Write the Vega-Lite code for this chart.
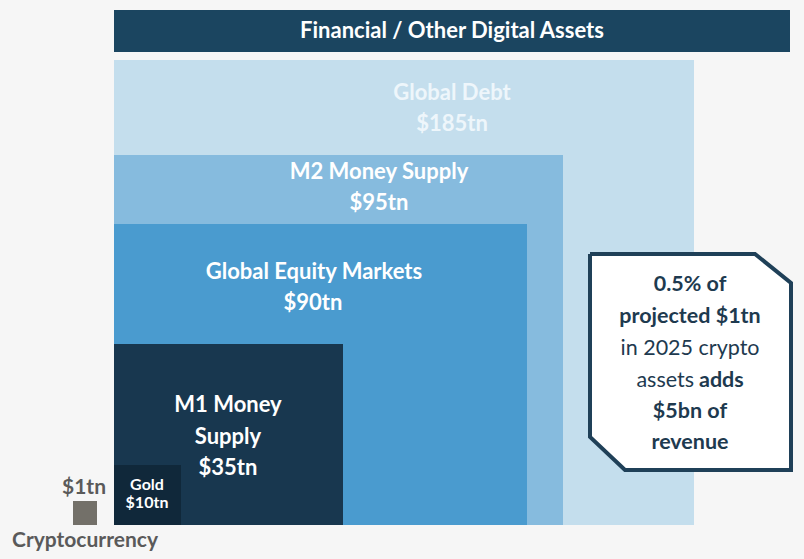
{
  "$schema": "https://vega.github.io/schema/vega-lite/v6.json",
  "width": 804,
  "height": 559,
  "autosize": "none",
  "padding": 0,
  "background": "#f6f6f6",
  "config": {"view": {"stroke": null}, "text": {"font": "Lato", "baseline": "middle", "align": "center"}},
  "datasets": {
    "boxes": [
      {"name": "Header", "x0": 114, "x1": 790, "y0": 10, "y1": 52},
      {"name": "Global Debt", "x0": 114, "x1": 694, "y0": 60, "y1": 525},
      {"name": "M2 Money Supply", "x0": 114, "x1": 563, "y0": 155, "y1": 525},
      {"name": "Global Equity Markets", "x0": 114, "x1": 527, "y0": 224, "y1": 525},
      {"name": "M1 Money Supply", "x0": 114, "x1": 343, "y0": 344, "y1": 525},
      {"name": "Gold", "x0": 114, "x1": 181, "y0": 465, "y1": 525},
      {"name": "Cryptocurrency", "x0": 73, "x1": 97, "y0": 501, "y1": 525}
    ],
    "callout": [
      {"i": 0, "x": 590, "y": 254},
      {"i": 1, "x": 755, "y": 254},
      {"i": 2, "x": 791, "y": 283},
      {"i": 3, "x": 791, "y": 470},
      {"i": 4, "x": 625, "y": 470},
      {"i": 5, "x": 590, "y": 437},
      {"i": 6, "x": 590, "y": 254}
    ],
    "whiteLabels": [
      {"t": "Financial / Other Digital Assets", "x": 452, "y": 31},
      {"t": "M2 Money Supply", "x": 379, "y": 172},
      {"t": "$95tn", "x": 379, "y": 203},
      {"t": "Global Equity Markets", "x": 314, "y": 272},
      {"t": "$90tn", "x": 313, "y": 303},
      {"t": "M1 Money", "x": 228, "y": 405},
      {"t": "Supply", "x": 228, "y": 437},
      {"t": "$35tn", "x": 228, "y": 468}
    ],
    "paleLabels": [
      {"t": "Global Debt", "x": 452, "y": 93},
      {"t": "$185tn", "x": 452, "y": 124}
    ],
    "goldLabels": [
      {"t": "Gold", "x": 147, "y": 485},
      {"t": "$10tn", "x": 147, "y": 503}
    ],
    "grayLabels": [
      {"t": "$1tn", "x": 84, "y": 488},
      {"t": "Cryptocurrency", "x": 85, "y": 541}
    ],
    "calloutBold": [
      {"t": "0.5% of", "x": 690, "y": 285},
      {"t": "projected $1tn", "x": 690, "y": 317},
      {"t": "$5bn of", "x": 690, "y": 412},
      {"t": "revenue", "x": 690, "y": 443}
    ],
    "calloutNormal": [
      {"t": "in 2025 crypto", "x": 690, "y": 349}
    ],
    "calloutAssets": [
      {"t": "assets", "x": 694, "y": 381}
    ],
    "calloutAdds": [
      {"t": "adds", "x": 699, "y": 381}
    ]
  },
  "layer": [
    {
      "data": {"name": "boxes"},
      "mark": {"type": "rect"},
      "encoding": {
        "x": {"field": "x0", "type": "quantitative", "scale": {"domain": [0, 804], "nice": false, "zero": false}, "axis": null},
        "x2": {"field": "x1"},
        "y": {"field": "y0", "type": "quantitative", "scale": {"domain": [0, 559], "nice": false, "zero": false, "reverse": true}, "axis": null},
        "y2": {"field": "y1"},
        "color": {
          "field": "name", "type": "nominal", "legend": null,
          "scale": {
            "domain": ["Header", "Global Debt", "M2 Money Supply", "Global Equity Markets", "M1 Money Supply", "Gold", "Cryptocurrency"],
            "range": ["#1b4560", "#c4deed", "#86bbde", "#4a9bcf", "#18374f", "#10283a", "#737069"]
          }
        }
      }
    },
    {
      "data": {"name": "callout"},
      "mark": {"type": "line", "fill": "#ffffff", "stroke": "#1f4058", "strokeWidth": 4, "strokeJoin": "miter"},
      "encoding": {
        "x": {"field": "x", "type": "quantitative"},
        "y": {"field": "y", "type": "quantitative"},
        "order": {"field": "i"}
      }
    },
    {
      "data": {"name": "whiteLabels"},
      "mark": {"type": "text", "fontSize": 22, "fontWeight": "bold", "color": "#ffffff"},
      "encoding": {"x": {"field": "x", "type": "quantitative"}, "y": {"field": "y", "type": "quantitative"}, "text": {"field": "t"}}
    },
    {
      "data": {"name": "paleLabels"},
      "mark": {"type": "text", "fontSize": 22, "fontWeight": "bold", "color": "#eef6fb"},
      "encoding": {"x": {"field": "x", "type": "quantitative"}, "y": {"field": "y", "type": "quantitative"}, "text": {"field": "t"}}
    },
    {
      "data": {"name": "goldLabels"},
      "mark": {"type": "text", "fontSize": 16, "fontWeight": "bold", "color": "#ffffff"},
      "encoding": {"x": {"field": "x", "type": "quantitative"}, "y": {"field": "y", "type": "quantitative"}, "text": {"field": "t"}}
    },
    {
      "data": {"name": "grayLabels"},
      "mark": {"type": "text", "fontSize": 21, "fontWeight": "bold", "color": "#5a5a5a"},
      "encoding": {"x": {"field": "x", "type": "quantitative"}, "y": {"field": "y", "type": "quantitative"}, "text": {"field": "t"}}
    },
    {
      "data": {"name": "calloutBold"},
      "mark": {"type": "text", "fontSize": 21.5, "fontWeight": "bold", "color": "#1e3a4f"},
      "encoding": {"x": {"field": "x", "type": "quantitative"}, "y": {"field": "y", "type": "quantitative"}, "text": {"field": "t"}}
    },
    {
      "data": {"name": "calloutNormal"},
      "mark": {"type": "text", "fontSize": 21.5, "color": "#1e3a4f"},
      "encoding": {"x": {"field": "x", "type": "quantitative"}, "y": {"field": "y", "type": "quantitative"}, "text": {"field": "t"}}
    },
    {
      "data": {"name": "calloutAssets"},
      "mark": {"type": "text", "fontSize": 21.5, "color": "#1e3a4f", "align": "right"},
      "encoding": {"x": {"field": "x", "type": "quantitative"}, "y": {"field": "y", "type": "quantitative"}, "text": {"field": "t"}}
    },
    {
      "data": {"name": "calloutAdds"},
      "mark": {"type": "text", "fontSize": 21.5, "fontWeight": "bold", "color": "#1e3a4f", "align": "left"},
      "encoding": {"x": {"field": "x", "type": "quantitative"}, "y": {"field": "y", "type": "quantitative"}, "text": {"field": "t"}}
    }
  ]
}
